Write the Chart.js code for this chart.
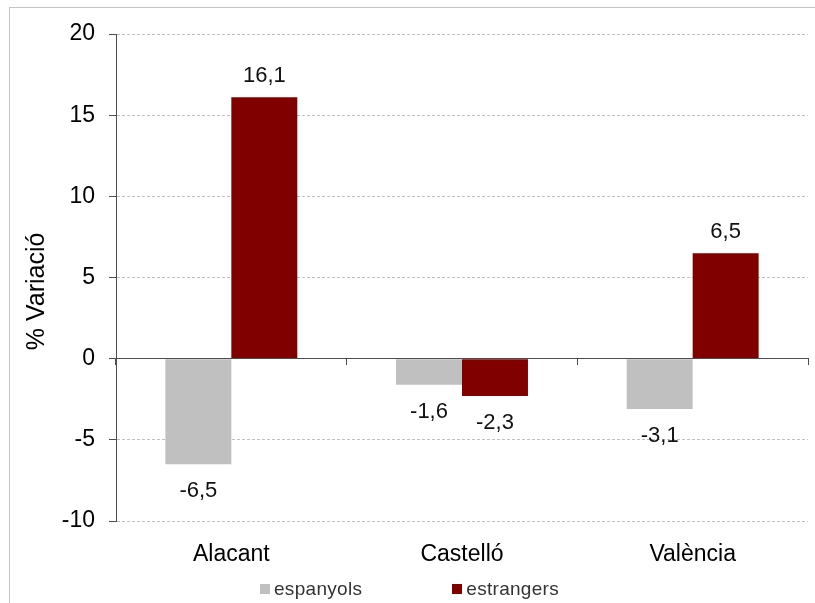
<!DOCTYPE html>
<html>
<head>
<meta charset="utf-8">
<script src="https://cdn.jsdelivr.net/npm/chart.js"></script>
<style>
  body { margin: 0; background: #fff; }
  #frame { position: absolute; left: 9px; top: 7px; width: 820px; height: 610px;
           border-left: 1px solid #c4c4c4; border-top: 1px solid #c4c4c4; }
  #wrap { position: absolute; left: 0; top: 0; width: 815px; height: 603px; }
  #legend { position: absolute; left: 260px; top: 579px; display: flex; gap: 90px;
            font: 19px "Liberation Sans", Arial, sans-serif; color: #333; letter-spacing: 0.3px; }
  #legend span.box { display: inline-block; width: 10px; height: 10px; margin-right: 4px; }
  #legend div { display: flex; align-items: center; line-height: 20px; }
</style>
</head>
<body>
<div id="frame"></div>
<div id="wrap"><canvas id="chart"></canvas></div>
<div id="legend"></div>
<script>
const categories = ['Alacant', 'Castelló', 'València'];
const espanyols = [-6.5, -1.6, -3.1];
const estrangers = [16.1, -2.3, 6.5];
const seriesNames = ['espanyols', 'estrangers'];
const yTicks = [-10, -5, 0, 5, 10, 15, 20];

const font = '"Liberation Sans", Arial, sans-serif';

// value labels above / below each bar
const valueLabels = {
  id: 'valueLabels',
  afterDatasetsDraw(chart) {
    const ctx = chart.ctx;
    ctx.save();
    ctx.font = '22px ' + font;
    ctx.fillStyle = '#111';
    ctx.textAlign = 'center';
    ctx.textBaseline = 'middle';
    chart.data.datasets.forEach((ds, i) => {
      chart.getDatasetMeta(i).data.forEach((bar, j) => {
        const v = ds.data[j];
        const y = v >= 0 ? bar.y - 21 : bar.y + 27;
        ctx.fillText(v.toFixed(1).replace('.', ','), bar.x, y);
      });
    });
    ctx.restore();
  }
};

const chart = new Chart(document.getElementById('chart'), {
  type: 'bar',
  data: {
    labels: categories,
    datasets: [
      { label: seriesNames[0], data: espanyols, backgroundColor: '#c0c0c0' },
      { label: seriesNames[1], data: estrangers, backgroundColor: '#800000' }
    ]
  },
  options: {
    responsive: true,
    maintainAspectRatio: false,
    animation: false,
    categoryPercentage: 0.572,
    barPercentage: 1,
    layout: { padding: { top: 34, right: 7, bottom: 38, left: 0 } },
    plugins: { legend: { display: false }, tooltip: { enabled: false } },
    scales: {
      x: {
        position: { y: 0 },
        offset: true,
        ticks: { display: false },
        grid: { offset: true, drawOnChartArea: false, tickLength: 6, color: '#4d4d4d' },
        border: { color: '#4d4d4d', width: 1, z: 1 },
        afterFit: (s) => { s.height = 0; }
      },
      x2: {
        type: 'category',
        labels: categories,
        position: 'bottom',
        offset: true,
        grid: { display: false },
        border: { display: false },
        ticks: { font: { size: 23, family: font }, color: '#000', padding: 12 },
        afterFit: (s) => { s.height = 44; }
      },
      y: {
        min: yTicks[0],
        max: yTicks[yTicks.length - 1],
        afterBuildTicks: (s) => { s.ticks = yTicks.map(v => ({ value: v })); },
        ticks: { font: { size: 23, family: font }, color: '#000', padding: 14 },
        grid: { color: '#c0c0c0', tickLength: 7, tickColor: '#4d4d4d' },
        border: { color: '#4d4d4d', width: 1, dash: [3, 2] },
        title: { display: true, text: '% Variació    ', font: { size: 25, family: font }, color: '#000', padding: { top: 22, bottom: 0 } },
        afterFit: (s) => { s.width = 116; }
      }
    }
  },
  plugins: [valueLabels]
});

// legend built from the datasets
const legend = document.getElementById('legend');
chart.data.datasets.forEach(ds => {
  const item = document.createElement('div');
  const box = document.createElement('span');
  box.className = 'box';
  box.style.background = ds.backgroundColor;
  item.appendChild(box);
  item.appendChild(document.createTextNode(ds.label));
  legend.appendChild(item);
});
</script>
</body>
</html>
